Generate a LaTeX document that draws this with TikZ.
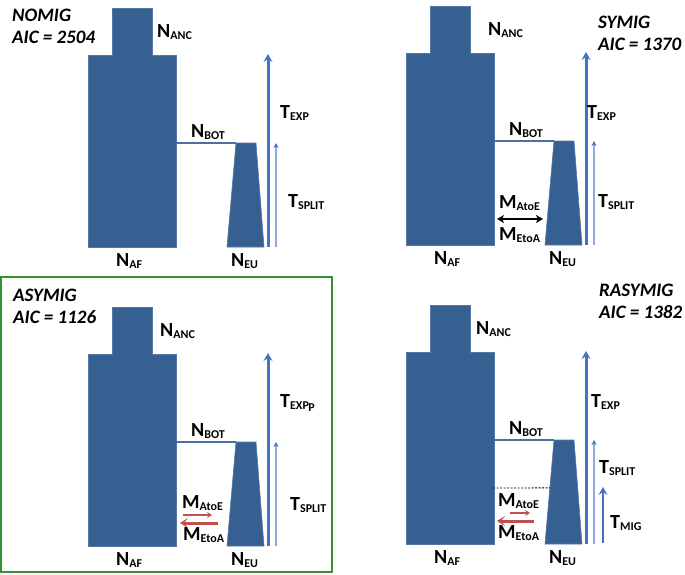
\documentclass[tikz,border=0pt]{standalone}
\usepackage{fontspec}
\setmainfont{Carlito}
\usetikzlibrary{arrows.meta, calc, positioning}

\definecolor{popblue}{RGB}{55,96,146}
\definecolor{expblue}{RGB}{68,114,196}
\definecolor{splitblue}{RGB}{142,170,219}
\definecolor{migred}{RGB}{192,80,77}
\definecolor{boxgreen}{RGB}{50,145,50}

\newcommand{\popsub}[2]{#1\raisebox{-2.5pt}{\fontsize{12}{12}\selectfont #2}}

\begin{document}
\begin{tikzpicture}[
    x=1pt, y=-1pt,
    every node/.style={inner sep=0pt, anchor=base west, font=\bfseries\fontsize{20}{20}\selectfont},
    title/.style={font=\bfseries\itshape\fontsize{19}{22}\selectfont, align=left},
    pop/.style={fill=popblue, draw=popblue!85!white, line width=0.6pt},
    bot/.style={draw=popblue!90!white, line width=2pt},
    texp/.style={draw=expblue, line width=3pt, -{Stealth[length=8pt, width=9pt, inset=3pt]}},
    tsplit/.style={draw=splitblue, line width=1.5pt, -{Stealth[length=5pt, width=5pt, color=expblue]}},
    tmig/.style={draw=expblue, line width=2.5pt, -{Stealth[length=8pt, width=9pt, inset=3pt]}},
    migsmall/.style={draw=migred, line width=1.2pt, -{Stealth[length=5pt, width=6pt, inset=2pt]}},
    migbig/.style={draw=migred, line width=3pt, -{Stealth[length=8pt, width=10pt, inset=4pt]}},
    migboth/.style={draw=black, line width=2pt, {Stealth[length=7pt, width=8pt, inset=2pt]}-{Stealth[length=7pt, width=8pt, inset=2pt]}}
]
\useasboundingbox (0,0) rectangle (685,574);

% Panels
\foreach \p/\dx/\dy/\ax/\tx/\ty/\sx/\sy in {a/0/0/157/280/118/288/207, b/318/-2/170/269/120/280/209,
    c/0/299/160/280/108/290/211, d/318/297/158/273/110/281/176}{
  \begin{scope}[shift={(\dx,\dy)}]
    % Populations
    \draw[pop] (88,247) -- (88,55) -- (112,55) -- (112,8) -- (152,8) -- (152,55) -- (176,55) -- (176,247) -- cycle;
    \coordinate (bot\p) at (176,143);
    \coordinate (eutl\p) at (236,143);
    \coordinate (eutr\p) at (256,143);
    \coordinate (eubl\p) at (227,247);
    \coordinate (eubr\p) at (264,247);
    \draw[pop] (eubl\p) -- (eutl\p) -- (eutr\p) -- (eubr\p) -- cycle;
    \draw[bot] (bot\p) -- (eutl\p);
    % Times
    \coordinate (expfrom\p) at (268,247);
    \coordinate (expto\p) at (268,54);
    \coordinate (splitfrom\p) at (276,247);
    \coordinate (splitto\p) at (276,143);
    \draw[texp] (expfrom\p) -- (expto\p);
    \draw[tsplit] (splitfrom\p) -- (splitto\p);
    % Labels
    \node (anc\p) at (\ax,37) {\popsub{N}{ANC}};
    \node (nbot\p) at (191,137) {\popsub{N}{BOT}};
    \node (texp\p) at (\tx,\ty) {\popsub{T}{EXP}};
    \node (tsplit\p) at (\sx,\sy) {\popsub{T}{SPLIT}};
    \node (af\p) at (116,266) {\popsub{N}{AF}};
    \node (eu\p) at (231,266) {\popsub{N}{EU}};
  \end{scope}
}

% Titles
\node[title] (nomig) at (12,43) {NOMIG\\AIC = 2504};
\node[title] (symig) at (598,50) {SYMIG\\AIC = 1370};
\node[title] (asymig) at (13,323) {ASYMIG\\AIC = 1126};
\node[title] (rasymig) at (599,318) {RASYMIG\\AIC = 1382};
\draw[boxgreen, line width=1.5pt] (1,277) rectangle (332,572);

% Migration, symmetric
\coordinate (symleft) at (497,219);
\coordinate (symright) at (543,219);
\draw[migboth] (symleft) -- (symright);
\node (matoeb) at (499,208) {\popsub{M}{AtoE}};
\node (metoab) at (499,240) {\popsub{M}{EtoA}};

% Migration, asymmetric
\coordinate (atoefromc) at (183,515);
\coordinate (atoetoc) at (212,515);
\coordinate (etoafromc) at (218,523);
\coordinate (etoatoc) at (180,523);
\draw[migsmall] (atoefromc) -- (atoetoc);
\draw[migbig] (etoafromc) -- (etoatoc);
\node (matoec) at (182,508) {\popsub{M}{AtoE}};
\node (metoac) at (183,540) {\popsub{M}{EtoA}};
\node[font=\bfseries\fontsize{12}{12}\selectfont] (expglitch) at ($(texpc.base east)+(-1,4.5)$) {P};

% Migration, recent asymmetric
\coordinate (migstart) at (493,488);
\draw[black, line width=0.8pt, dash pattern=on 2pt off 1.5pt] (migstart) -- ($(eutld)!0.46!(eubld)$);
\coordinate (atoefromd) at (510,513);
\coordinate (atoetod) at (530,513);
\coordinate (etoafromd) at (534,521);
\coordinate (etoatod) at (497,521);
\draw[migsmall] (atoefromd) -- (atoetod);
\draw[migbig] (etoafromd) -- (etoatod);
\node (matoed) at (498,506) {\popsub{M}{AtoE}};
\node (metoad) at (498,538) {\popsub{M}{EtoA}};
\coordinate (migfrom) at (603,543);
\coordinate (migto) at (603,487);
\draw[tmig] (migfrom) -- (migto);
\node (tmigd) at (610,528) {\popsub{T}{MIG}};

\end{tikzpicture}
\end{document}
